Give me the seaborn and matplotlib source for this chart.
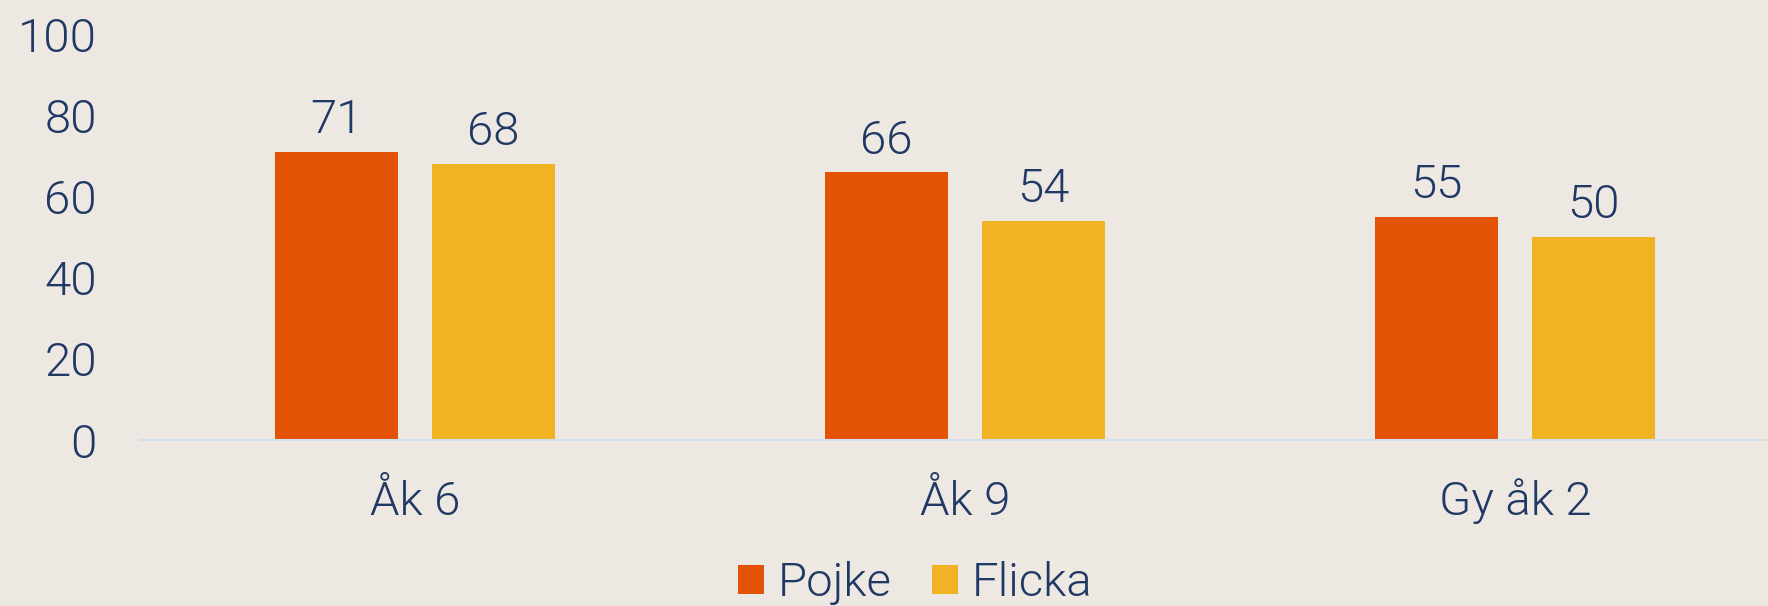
import matplotlib
matplotlib.use("Agg")
import matplotlib.pyplot as plt
from matplotlib.patches import Patch
import seaborn as sns
import pandas as pd

categories = ["Åk 6", "Åk 9", "Gy åk 2"]
series_names = ["Pojke", "Flicka"]
pojke = [71, 66, 55]
flicka = [68, 54, 50]
y_ticks = [0, 20, 40, 60, 80, 100]

colors = {"Pojke": "#E35205", "Flicka": "#F0B323"}
bg = "#EDE8E2"
txt = "#1F3864"
fs = 34
fw = 300

df = pd.DataFrame({
    "grade": categories * 2,
    "gender": ["Pojke"] * 3 + ["Flicka"] * 3,
    "value": pojke + flicka,
})

sns.set_theme(style="white")
plt.rcParams["font.family"] = ["Roboto", "DejaVu Sans"]
plt.rcParams["font.weight"] = fw

W, H = 1768, 606
fig = plt.figure(figsize=(W / 100, H / 100), dpi=100, facecolor=bg)
ax = fig.add_axes([140 / W, (H - 440) / H, (W - 140) / W, 405.6 / H])
ax.set_facecolor(bg)

sns.barplot(data=df, x="grade", y="value", hue="gender", order=categories,
            hue_order=series_names, palette=colors, saturation=1,
            width=0.571, gap=0.217, legend=False, ax=ax, errorbar=None,
            linewidth=0)

for cont in ax.containers:
    ax.bar_label(cont, padding=7, fontsize=fs, color=txt, fontweight=fw)

ax.set_ylim(0, 100)
ax.set_xlim(-0.5, 2.46)
ax.set_yticks(y_ticks)
ax.set_xlabel("")
ax.set_ylabel("")
ax.tick_params(axis="y", length=0, pad=31, labelsize=fs, labelcolor=txt)
ax.tick_params(axis="x", length=0, pad=54, labelsize=fs, labelcolor=txt)
for lab in ax.get_xticklabels():
    lab.set_verticalalignment("baseline")
for lab in ax.get_xticklabels() + ax.get_yticklabels():
    lab.set_fontweight(fw)

for s in ["top", "right", "left"]:
    ax.spines[s].set_visible(False)
ax.spines["bottom"].set_color("#D3DFEC")
ax.spines["bottom"].set_linewidth(1.5)
ax.grid(False)

handles = [Patch(facecolor=colors[n], edgecolor="none", label=n) for n in series_names]
leg = fig.legend(handles=handles, loc="center", bbox_to_anchor=(915 / W, (H - 583) / H),
                 ncol=2, frameon=False, fontsize=fs, handlelength=0.55, handleheight=0.55,
                 handletextpad=0.3, columnspacing=0.85, borderpad=0, borderaxespad=0)
for t in leg.get_texts():
    t.set_color(txt)
    t.set_fontweight(fw)

fig.savefig("out.png", dpi=100, facecolor=bg)
